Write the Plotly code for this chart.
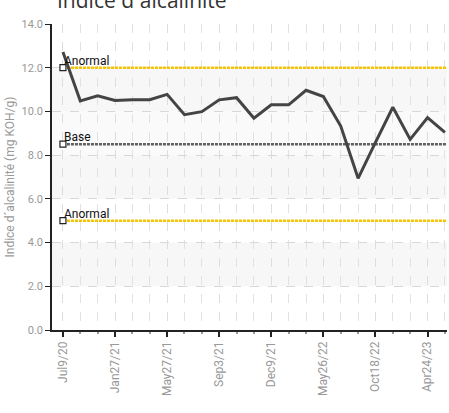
import plotly.graph_objects as go

# ---- data ----
values = [12.72, 10.48, 10.72, 10.50, 10.54, 10.54, 10.78, 9.85, 9.99, 10.53,
          10.63, 9.69, 10.30, 10.30, 10.97, 10.68, 9.33, 6.94, 8.58, 10.19,
          8.72, 9.72, 9.04]
tick_labels = ["Jul9/20", "Jan27/21", "May27/21", "Sep3/21", "Dec9/21",
               "May26/22", "Oct18/22", "Apr24/23"]
tick_every = 3
ref_names = ["Anormal", "Base", "Anormal"]
ref_values = [12.0, 8.5, 5.0]
ref_colors = ["#f5c400", "#606060", "#f5c400"]
y_ticks = [0, 2, 4, 6, 8, 10, 12, 14]
title = "Indice d´alcalinité"
y_title = "Indice d´alcalinité (mg KOH/g)"

FONT = "Liberation Sans Narrow, Roboto, sans-serif"

n = len(values)
xs = list(range(n))
x_min, x_max = -0.63, n - 1 + 0.12

fig = go.Figure()

# alternating bands
for i in range(len(y_ticks) - 1):
    if i % 2 == 1:
        fig.add_shape(type="rect", xref="paper", yref="y", x0=0, x1=1,
                      y0=y_ticks[i], y1=y_ticks[i + 1], fillcolor="#f7f7f7",
                      line_width=0, layer="below")
fig.add_shape(type="rect", xref="paper", yref="y", x0=0, x1=1,
              y0=8, y1=10, fillcolor="#fafafa", line_width=0, layer="below")

# reference lines
for name, v, c in zip(ref_names, ref_values, ref_colors):
    fig.add_trace(go.Scatter(x=[0, x_max], y=[v, v], mode="lines",
                             line=dict(color=c, width=2.6, dash="3px,1px"),
                             hoverinfo="skip", showlegend=False))
    fig.add_trace(go.Scatter(x=[0], y=[v], mode="markers",
                             marker=dict(symbol="square", size=6, color="white",
                                         line=dict(color="#222", width=1.2)),
                             showlegend=False, hoverinfo="skip"))
    fig.add_annotation(x=0, y=v, xref="x", yref="y", text=name, showarrow=False,
                       xanchor="left", yanchor="bottom", xshift=-1, yshift=-2,
                       font=dict(family=FONT, size=12, color="#111"))

fig.add_trace(go.Scatter(x=xs, y=values, mode="lines",
                         line=dict(color="#444444", width=3),
                         showlegend=False))

fig.add_annotation(text=title, xref="paper", yref="paper", x=0.008, y=1 + 8 / 306,
                   xanchor="left", yanchor="bottom", showarrow=False,
                   font=dict(family="Open Sans, sans-serif", size=21, color="#333"))

fig.update_layout(
    width=449, height=413,
    margin=dict(l=52, r=2, t=24, b=83, autoexpand=False),
    paper_bgcolor="white", plot_bgcolor="white",
    showlegend=False,
    font=dict(family=FONT, size=11, color="#999"),
)
fig.update_xaxes(
    range=[x_min, x_max], automargin=False,
    tickmode="array", tickvals=xs[::tick_every], ticktext=tick_labels,
    tickangle=-90, tickfont=dict(family=FONT, size=12, color="#999"),
    ticks="outside", ticklen=5, tickcolor="#222", tickwidth=1.5,
    showline=True, linecolor="#222", linewidth=1.5,
    showgrid=True, gridcolor="#dddddd", griddash="dash", gridwidth=1,
    minor=dict(tickvals=xs, showgrid=True, gridcolor="#e2e2e2", griddash="dash",
               ticks="outside", ticklen=2, tickcolor="#999"),
    zeroline=False,
)
fig.update_yaxes(
    range=[0, 14], automargin=False, tickmode="array", tickvals=y_ticks,
    ticktext=[f"{t:.1f}" for t in y_ticks],
    tickfont=dict(family=FONT, size=11, color="#999"),
    ticks="outside", ticklen=5, tickcolor="#222",
    showline=True, linecolor="#222", linewidth=1.5,
    showgrid=True, gridcolor="#d8d8d8", griddash="dash",
    zeroline=False,
    title=dict(text=y_title, font=dict(family=FONT, size=12, color="#999"), standoff=4),
)

fig.write_html("out.html", config={"displayModeBar": False},
               post_script="document.body.style.margin='0';document.body.style.overflow='hidden';")
